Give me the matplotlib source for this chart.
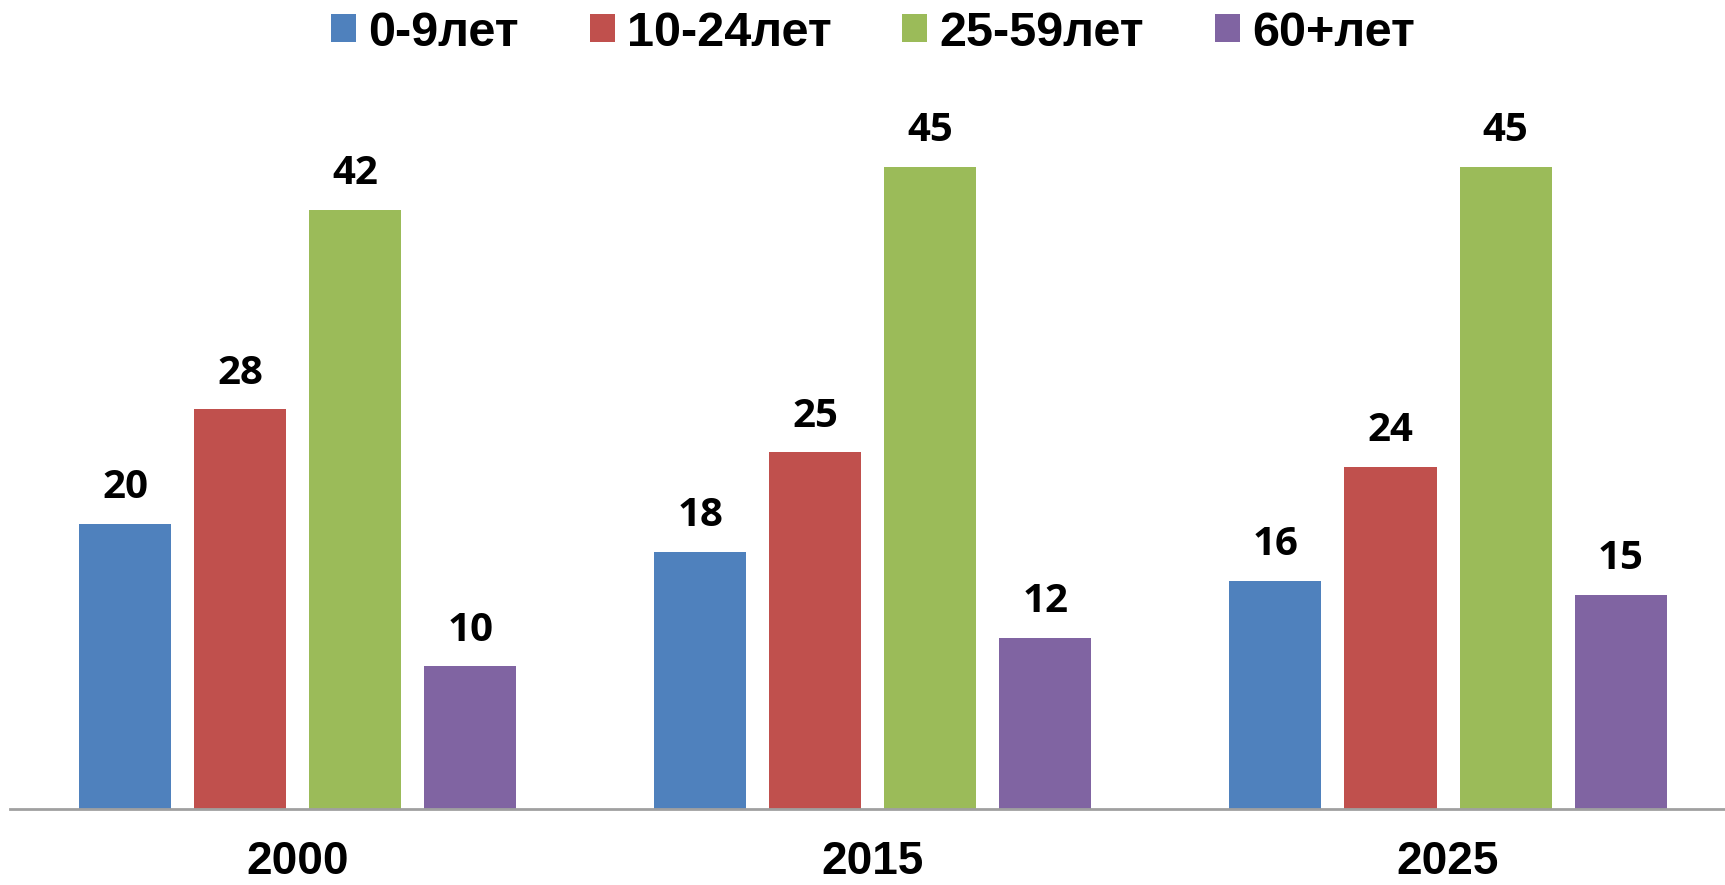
import numpy as np
import matplotlib
matplotlib.use("Agg")
import matplotlib.pyplot as plt
from matplotlib.patches import Patch

# Data
years = ["2000", "2015", "2025"]
groups = ["0-9лет", "10-24лет", "25-59лет", "60+лет"]
values_0_9 = [20, 18, 16]
values_10_24 = [28, 25, 24]
values_25_59 = [42, 45, 45]
values_60 = [10, 12, 15]
colors = ["#4F81BD", "#C0504D", "#9BBB59", "#8064A2"]

series = [values_0_9, values_10_24, values_25_59, values_60]

W, H = 1725, 885
fig = plt.figure(figsize=(W / 100, H / 100), dpi=100)
ax = fig.add_axes([10 / W, 76 / H, 1715 / W, 713.5 / H])

x = np.arange(len(years))
step = 0.2
width = 0.16
for i, (vals, col) in enumerate(zip(series, colors)):
    bars = ax.bar(x + (i - 1.5) * step, vals, width, color=col, label=groups[i])
    labels = ax.bar_label(bars, labels=[str(v) for v in vals], padding=12)
    for t in labels:
        t.set_fontfamily("Open Sans")
        t.set_fontweight("bold")
        t.set_fontsize(29)

ax.set_xlim(-0.5, 2.4815)
ax.set_ylim(0, 50)
ax.set_yticks([])
ax.set_xticks(x)
ax.set_xticklabels(years, fontsize=33, fontweight="bold", family="Liberation Sans")
ax.tick_params(axis="x", length=0, pad=22)
for s in ["top", "right", "left"]:
    ax.spines[s].set_visible(False)
ax.spines["bottom"].set_color("#A0A0A0")
ax.spines["bottom"].set_linewidth(2)

handles = [Patch(facecolor=c, edgecolor="none") for c in colors]
fig.legend(handles, groups, loc="center", bbox_to_anchor=(873 / W, 1 - 33 / H),
           ncol=4, frameon=False, borderpad=0, handlelength=0.51, handleheight=0.51,
           handletextpad=0.25, columnspacing=1.46,
           prop={"family": "Liberation Sans", "weight": "bold", "size": 35})

fig.savefig("out.png", dpi=100)
